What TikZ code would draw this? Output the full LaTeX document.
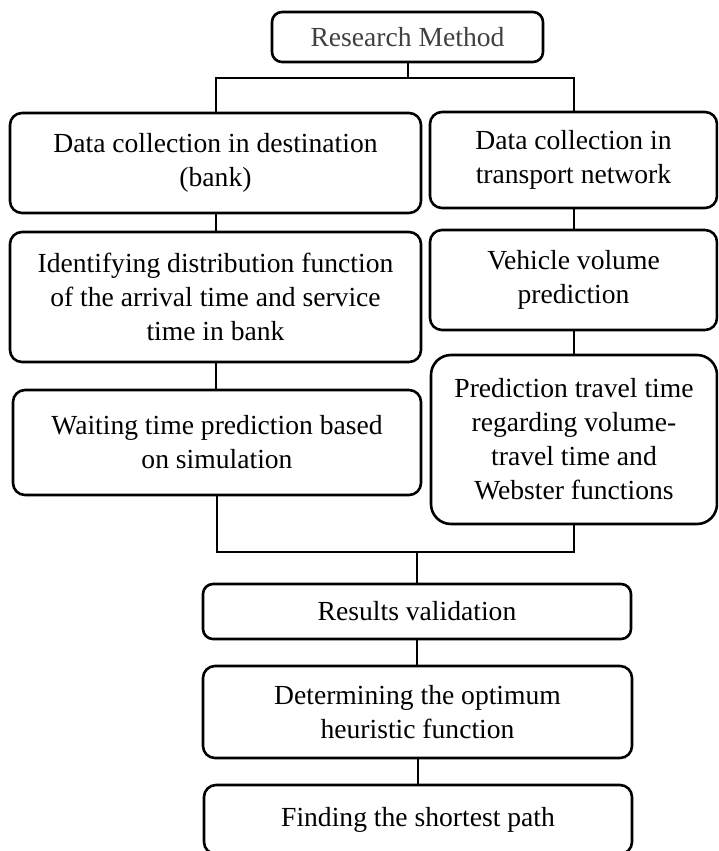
\documentclass[tikz,border=0pt]{standalone}
\usepackage{fontspec}
\setmainfont{Liberation Serif}
\begin{document}
\begin{tikzpicture}[x=1pt,y=1pt]
\tikzstyle{every node}+=[font=\fontsize{13.8}{17}\selectfont, align=center, inner sep=0pt]
\tikzstyle{stepbox}=[draw, line width=1.3pt, rounded corners=6pt]
\tikzstyle{link}=[line width=1pt]
\clip (0,0) rectangle (359,-425.5);
\node[stepbox, rounded corners=5pt, text=black!75, minimum width=135.5pt, minimum height=25pt] (title) at (203.75,-18.5) {Research Method};
\node[stepbox, minimum width=205.5pt, minimum height=50pt] (L1) at (107.75,-81.5) {Data collection in destination\\(bank)};
\node[stepbox, minimum width=205.5pt, minimum height=65pt] (L2) at (107.75,-148.5) {Identifying distribution function\\of the arrival time and service\\time in bank};
\node[stepbox, minimum width=204pt, minimum height=52.5pt] (L3) at (108.5,-221.25) {Waiting time prediction based\\on simulation};
\node[stepbox, minimum width=143.5pt, minimum height=48pt] (R1) at (286.75,-80) {Data collection in\\transport network};
\node[stepbox, minimum width=143.5pt, minimum height=50pt] (R2) at (286.75,-140) {Vehicle volume\\prediction};
\node[stepbox, rounded corners=10pt, minimum width=143pt, minimum height=84.5pt] (R3) at (287,-219.75) {Prediction travel time\\regarding volume-\\travel time and\\Webster functions};
\node[stepbox, rounded corners=5pt, minimum width=214pt, minimum height=27.5pt] (res) at (208.5,-305.75) {Results validation};
\node[stepbox, minimum width=214.5pt, minimum height=46pt] (det) at (208.75,-356) {Determining the optimum\\heuristic function};
\node[stepbox, minimum width=214pt, minimum height=34.5pt] (find) at (209,-409.75) {Finding the shortest path};
\coordinate (topbar) at (0,-39);
\coordinate (botbar) at (0,-276);
% upper split
\draw[link] (title.south) -- (title.south |- topbar);
\draw[link] (L1.north) -- (L1.north |- topbar) -- (R1.north |- topbar) -- (R1.north);
% two columns
\draw[link] (L1.south) -- (L1.south |- L2.north);
\draw[link] (L2.south) -- (L2.south |- L3.north);
\draw[link] (R1.south) -- (R1.south |- R2.north);
\draw[link] (R2.south) -- (R2.south |- R3.north);
% merge
\draw[link] (L3.south) -- (L3.south |- botbar) -- (R3.south |- botbar) -- (R3.south);
\draw[link] (res.north |- botbar) -- (res.north);
\draw[link] (res.south) -- (res.south |- det.north);
\draw[link] (det.south) -- (det.south |- find.north);
\end{tikzpicture}
\end{document}
